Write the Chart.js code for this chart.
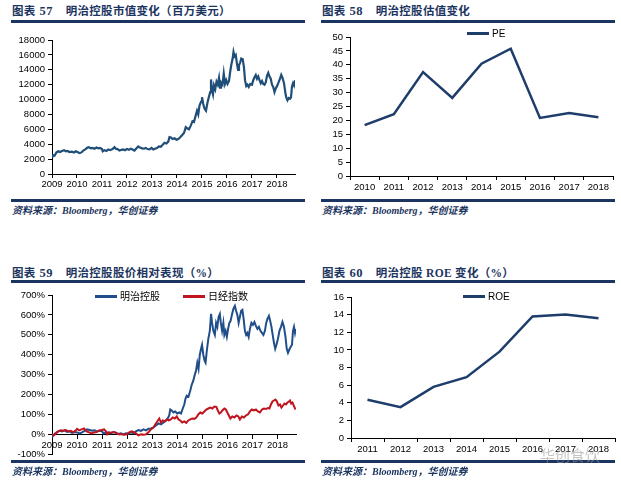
<!DOCTYPE html>
<html>
<head>
<meta charset="utf-8">
<script src="https://cdn.jsdelivr.net/npm/chart.js@4.4.1/dist/chart.umd.min.js"></script>
<style>
  body { margin: 0; background: #fff; width: 621px; height: 484px; position: relative; overflow: hidden; }
  .box { position: absolute; }
  .title { position: absolute; font: bold 11.5px "Liberation Serif", "Noto Sans CJK SC", serif; color: #1c3560; white-space: nowrap; line-height: 15px; letter-spacing: 0.3px; }
  .title .num { margin: 0 13px 0 4px; font-size: 12.5px; }
  .rule { position: absolute; height: 3px; background: #1c3560; }
  .src { position: absolute; font: italic bold 10px "Liberation Serif", "Noto Sans CJK SC", serif; color: #1c3560; white-space: nowrap; line-height: 12px; }
  .leg { position: absolute; font: 10px "Liberation Sans", "Noto Sans CJK SC", sans-serif; color: #000; white-space: nowrap; line-height: 12px; }
  .leg i { display: inline-block; width: 22px; height: 2.5px; vertical-align: middle; margin-right: 3px; position: relative; top: -1px; }
  .wm { position: absolute; font: 15px "Noto Sans CJK SC", sans-serif; color: rgba(150,150,150,0.55); white-space: nowrap; }
</style>
</head>
<body>

<div class="box" style="left:0;top:30px;width:305px;height:164px"><canvas id="mktCapChart"></canvas></div>
<div class="box" style="left:310px;top:27px;width:311px;height:169px"><canvas id="peChart"></canvas></div>
<div class="box" style="left:0;top:285px;width:305px;height:178px"><canvas id="relChart"></canvas></div>
<div class="box" style="left:310px;top:287px;width:311px;height:171px"><canvas id="roeChart"></canvas></div>

<div class="title" style="left:12px;top:4px">图表<span class="num">57</span>明治控股市值变化（百万美元）</div>
<div class="rule" style="left:11px;top:20px;width:294px"></div>
<div class="rule" style="left:11px;top:199px;width:294px"></div>
<div class="src" style="left:12px;top:205px">资料来源：Bloomberg，华创证券</div>

<div class="title" style="left:322px;top:4px">图表<span class="num">58</span>明治控股估值变化</div>
<div class="rule" style="left:321px;top:20px;width:294px"></div>
<div class="rule" style="left:321px;top:199px;width:294px"></div>
<div class="src" style="left:322px;top:205px">资料来源：Bloomberg，华创证券</div>
<div class="leg" style="left:467px;top:28px"><i style="background:#1f3d6b"></i>PE</div>

<div class="title" style="left:12px;top:266px">图表<span class="num">59</span>明治控股股价相对表现（%）</div>
<div class="rule" style="left:11px;top:280px;width:294px"></div>
<div class="rule" style="left:11px;top:460px;width:294px"></div>
<div class="src" style="left:12px;top:466px">资料来源：Bloomberg，华创证券</div>
<div class="leg" style="left:95px;top:291px"><i style="background:#1f4e8a"></i>明治控股</div>
<div class="leg" style="left:183px;top:291px"><i style="background:#c0141f"></i>日经指数</div>

<div class="title" style="left:322px;top:266px">图表<span class="num">60</span>明治控股 ROE 变化（%）</div>
<div class="rule" style="left:321px;top:280px;width:294px"></div>
<div class="rule" style="left:321px;top:460px;width:294px"></div>
<div class="src" style="left:322px;top:466px">资料来源：Bloomberg，华创证券</div>
<div class="leg" style="left:463px;top:291px"><i style="background:#1f3d6b"></i>ROE</div>
<div class="wm" style="left:540px;top:444px">华创食饮</div>

<script>
// ---- Data ----
const yearTicks = [2009, 2010, 2011, 2012, 2013, 2014, 2015, 2016, 2017, 2018];

// market cap, million USD: [decimal year, value]
const mktCap = [
  [2009.00, 2200], [2009.05, 2500], [2009.10, 2450], [2009.18, 2900], [2009.25, 3050], [2009.32, 2950],
  [2009.40, 3100], [2009.48, 3200], [2009.55, 3050], [2009.62, 3100], [2009.70, 2950], [2009.80, 3000],
  [2009.88, 2900], [2009.95, 3050], [2010.02, 2950], [2010.10, 2800], [2010.18, 2900], [2010.25, 3150],
  [2010.33, 3300], [2010.42, 3550], [2010.48, 3600], [2010.55, 3450], [2010.62, 3500], [2010.70, 3400],
  [2010.78, 3550], [2010.85, 3450], [2010.92, 3500], [2011.00, 3350], [2011.03, 3050], [2011.10, 3200],
  [2011.18, 3100], [2011.25, 3300], [2011.33, 3200], [2011.42, 3350], [2011.50, 3600], [2011.55, 3400],
  [2011.62, 3350], [2011.70, 3150], [2011.78, 3250], [2011.85, 3300], [2011.92, 3200], [2012.00, 3350],
  [2012.08, 3250], [2012.15, 3400], [2012.22, 3300], [2012.30, 3150], [2012.38, 3450], [2012.45, 3700],
  [2012.52, 3550], [2012.60, 3450], [2012.68, 3400], [2012.75, 3500], [2012.82, 3350], [2012.90, 3300],
  [2012.98, 3500], [2013.05, 3300], [2013.12, 3400], [2013.20, 3500], [2013.28, 3700], [2013.35, 3650],
  [2013.42, 3900], [2013.50, 4200], [2013.58, 4100], [2013.65, 4350], [2013.70, 4950], [2013.76, 4900],
  [2013.82, 4700], [2013.90, 4800], [2013.98, 4600], [2014.05, 4700], [2014.12, 4900], [2014.20, 5200],
  [2014.28, 5500], [2014.35, 6300], [2014.42, 6100], [2014.48, 6000], [2014.55, 6500], [2014.62, 7100],
  [2014.68, 7000], [2014.75, 7900], [2014.80, 8500], [2014.85, 8000], [2014.90, 9200], [2014.96, 9700],
  [2015.00, 10300], [2015.05, 9400], [2015.10, 8800], [2015.16, 8500], [2015.22, 9600], [2015.28, 10400],
  [2015.33, 11000], [2015.36, 12700], [2015.40, 11300], [2015.44, 10700], [2015.48, 11900], [2015.53, 11400],
  [2015.58, 12400], [2015.63, 12000], [2015.68, 12900], [2015.72, 11600], [2015.76, 12300], [2015.82, 12000],
  [2015.87, 13500], [2015.92, 12100], [2015.97, 12600], [2016.02, 12100], [2016.08, 12500], [2016.13, 13800],
  [2016.18, 14800], [2016.22, 15400], [2016.26, 16400], [2016.30, 15800], [2016.35, 16000], [2016.40, 14800],
  [2016.44, 14000], [2016.48, 14600], [2016.53, 15000], [2016.57, 15500], [2016.63, 15400], [2016.68, 14300],
  [2016.72, 12600], [2016.77, 11800], [2016.82, 12000], [2016.87, 11700], [2016.93, 12100], [2017.00, 12000],
  [2017.05, 12600], [2017.10, 13000], [2017.15, 13300], [2017.20, 12800], [2017.25, 13100], [2017.30, 12600],
  [2017.35, 12200], [2017.40, 12500], [2017.45, 12100], [2017.50, 12000], [2017.55, 12300], [2017.60, 13200],
  [2017.65, 13600], [2017.70, 13100], [2017.75, 12800], [2017.80, 12000], [2017.85, 11700], [2017.90, 11000],
  [2017.95, 11500], [2018.00, 11800], [2018.05, 12200], [2018.12, 12800], [2018.17, 13300], [2018.22, 12900],
  [2018.28, 12200], [2018.33, 11000], [2018.37, 10300], [2018.42, 9900], [2018.47, 10200], [2018.52, 10100],
  [2018.56, 10300], [2018.60, 11800], [2018.64, 12200], [2018.68, 11900], [2018.72, 12600]
];

const peYears = ['2010', '2011', '2012', '2013', '2014', '2015', '2016', '2017', '2018'];
const peValues = [18.3, 22.2, 37.4, 28.1, 40.4, 45.8, 20.9, 22.7, 21.1];

// relative performance, %: [decimal year, value]
const meijiRel = [
  [2009.00, -15], [2009.05, -5], [2009.12, 5], [2009.20, 12], [2009.30, 18], [2009.40, 15], [2009.50, 20],
  [2009.60, 12], [2009.70, 15], [2009.80, 8], [2009.90, 12], [2010.00, 10], [2010.10, 5], [2010.20, 10],
  [2010.30, 18], [2010.40, 25], [2010.50, 22], [2010.60, 18], [2010.70, 20], [2010.80, 15], [2010.90, 18],
  [2011.00, 15], [2011.05, 5], [2011.15, 8], [2011.25, 10], [2011.35, 5], [2011.45, 12], [2011.55, 8],
  [2011.65, 2], [2011.75, 5], [2011.85, 0], [2011.95, 5], [2012.05, 3], [2012.15, 10], [2012.25, 5],
  [2012.35, 15], [2012.45, 22], [2012.55, 18], [2012.65, 25], [2012.75, 20], [2012.85, 28], [2012.95, 30],
  [2013.05, 35], [2013.15, 45], [2013.25, 55], [2013.35, 50], [2013.45, 60], [2013.55, 70], [2013.62, 80],
  [2013.68, 95], [2013.72, 125], [2013.78, 120], [2013.85, 110], [2013.92, 115], [2014.00, 105], [2014.08, 110],
  [2014.15, 105], [2014.22, 130], [2014.28, 150], [2014.33, 180], [2014.38, 195], [2014.45, 190], [2014.52, 220],
  [2014.58, 250], [2014.64, 270], [2014.70, 300], [2014.75, 320], [2014.80, 360], [2014.85, 330], [2014.90, 400],
  [2014.95, 430], [2014.99, 450], [2015.04, 400], [2015.09, 370], [2015.13, 360], [2015.18, 420], [2015.24, 480],
  [2015.30, 520], [2015.35, 605], [2015.39, 560], [2015.44, 520], [2015.50, 500], [2015.55, 560], [2015.60, 540],
  [2015.65, 590], [2015.70, 605], [2015.74, 560], [2015.79, 520], [2015.84, 560], [2015.88, 500], [2015.93, 520],
  [2015.98, 490], [2016.03, 530], [2016.08, 560], [2016.13, 570], [2016.18, 600], [2016.24, 630], [2016.30, 645],
  [2016.35, 620], [2016.40, 600], [2016.45, 560], [2016.50, 590], [2016.55, 620], [2016.60, 625], [2016.65, 580],
  [2016.70, 520], [2016.75, 500], [2016.80, 510], [2016.85, 490], [2016.90, 530], [2016.96, 560], [2017.02, 550],
  [2017.08, 565], [2017.14, 545], [2017.20, 530], [2017.26, 540], [2017.32, 520], [2017.38, 510], [2017.44, 500],
  [2017.50, 520], [2017.55, 560], [2017.60, 580], [2017.66, 595], [2017.71, 570], [2017.76, 540], [2017.81, 500],
  [2017.86, 460], [2017.91, 430], [2017.96, 450], [2018.02, 480], [2018.08, 520], [2018.14, 540], [2018.20, 565],
  [2018.26, 540], [2018.32, 490], [2018.37, 430], [2018.42, 410], [2018.47, 425], [2018.53, 440], [2018.58, 450],
  [2018.62, 520], [2018.66, 540], [2018.70, 510], [2018.73, 530]
];

const nikkeiRel = [
  [2009.00, 0], [2009.08, -5], [2009.15, 5], [2009.25, 15], [2009.35, 20], [2009.45, 18], [2009.55, 22],
  [2009.65, 15], [2009.75, 18], [2009.85, 10], [2009.95, 20], [2010.00, 28], [2010.08, 20], [2010.18, 25],
  [2010.28, 30], [2010.38, 15], [2010.48, 10], [2010.58, 5], [2010.68, 10], [2010.78, 12], [2010.88, 20],
  [2010.98, 22], [2011.08, 25], [2011.15, 15], [2011.20, 0], [2011.28, 8], [2011.38, 10], [2011.48, 12],
  [2011.58, 5], [2011.68, 0], [2011.78, 2], [2011.88, -2], [2011.98, 0], [2012.08, 10], [2012.18, 15],
  [2012.25, 12], [2012.35, 5], [2012.45, -5], [2012.55, 0], [2012.65, -2], [2012.75, 0], [2012.85, 10],
  [2012.95, 25], [2013.05, 35], [2013.12, 50], [2013.20, 65], [2013.28, 80], [2013.35, 60], [2013.42, 70],
  [2013.50, 65], [2013.58, 75], [2013.66, 70], [2013.74, 75], [2013.82, 85], [2013.90, 80], [2013.98, 90],
  [2014.05, 75], [2014.12, 70], [2014.20, 60], [2014.28, 65], [2014.36, 58], [2014.44, 70], [2014.52, 75],
  [2014.60, 80], [2014.68, 78], [2014.76, 85], [2014.84, 100], [2014.92, 110], [2015.00, 105], [2015.08, 115],
  [2015.16, 125], [2015.24, 130], [2015.32, 135], [2015.40, 130], [2015.48, 140], [2015.56, 138], [2015.62, 120],
  [2015.68, 105], [2015.74, 110], [2015.80, 120], [2015.88, 130], [2015.94, 125], [2016.00, 110], [2016.06, 95],
  [2016.12, 80], [2016.20, 90], [2016.28, 85], [2016.36, 95], [2016.44, 90], [2016.50, 75], [2016.58, 90],
  [2016.66, 85], [2016.74, 95], [2016.82, 100], [2016.90, 115], [2016.98, 125], [2017.06, 120], [2017.14, 125],
  [2017.22, 115], [2017.30, 110], [2017.38, 125], [2017.46, 130], [2017.54, 128], [2017.62, 132], [2017.68, 130],
  [2017.74, 150], [2017.80, 165], [2017.86, 170], [2017.92, 175], [2017.98, 165], [2018.04, 145], [2018.10, 150],
  [2018.16, 135], [2018.22, 145], [2018.28, 155], [2018.34, 150], [2018.40, 160], [2018.46, 165], [2018.50, 170],
  [2018.55, 155], [2018.60, 160], [2018.65, 145], [2018.70, 130], [2018.73, 125]
];

const roeYears = ['2011', '2012', '2013', '2014', '2015', '2016', '2017', '2018'];
const roeValues = [4.35, 3.5, 5.8, 6.9, 9.8, 13.8, 14.0, 13.6];

// ---- shared styling ----
const tickFont = { family: '"Liberation Sans", Arial, sans-serif', size: 9.5 };
const toXY = arr => arr.map(p => ({ x: p[0], y: p[1] }));

function yAxis(min, max, step, width, fmt) {
  return {
    min, max,
    ticks: { stepSize: step, autoSkip: false, font: tickFont, color: '#000', padding: 3, callback: fmt || (v => v) },
    grid: { display: true, drawOnChartArea: false, drawTicks: true, tickLength: 4, color: '#000' },
    border: { display: true, color: '#000', width: 1 },
    afterFit: s => { s.width = width; }
  };
}

function yearAxis(max, extra) {
  return Object.assign({
    type: 'linear',
    min: 2009, max,
    afterBuildTicks: s => { s.ticks = yearTicks.map(v => ({ value: v })); },
    ticks: { font: tickFont, color: '#000', padding: 1, maxRotation: 0, autoSkip: false, callback: v => String(v) },
    grid: { display: true, drawOnChartArea: false, drawTicks: true, tickLength: 4, color: '#000' },
    border: { display: true, color: '#000', width: 1 },
    afterFit: s => { s.height = 20; }
  }, extra || {});
}

function catAxis() {
  return {
    type: 'category',
    offset: true,
    ticks: { font: tickFont, color: '#000', padding: 2, maxRotation: 0, autoSkip: false },
    grid: { display: true, offset: true, drawOnChartArea: false, drawTicks: true, tickLength: 4, color: '#000' },
    border: { display: true, color: '#000', width: 1 },
    afterFit: s => { s.height = 20; }
  };
}

const basePlugins = { legend: { display: false }, tooltip: { enabled: false } };

// ---- 57: market cap ----
new Chart(document.getElementById('mktCapChart'), {
  type: 'line',
  data: {
    datasets: [{
      data: toXY(mktCap),
      borderColor: '#1f4e79',
      borderWidth: 2.2,
      pointRadius: 0,
      tension: 0
    }]
  },
  options: {
    responsive: true, maintainAspectRatio: false, animation: false,
    layout: { padding: { top: 10, right: 10, bottom: 0, left: 0 } },
    plugins: basePlugins,
    scales: {
      x: yearAxis(2018.72),
      y: yAxis(0, 18000, 2000, 52)
    }
  }
});

// ---- 58: PE ----
new Chart(document.getElementById('peChart'), {
  type: 'line',
  data: {
    labels: peYears,
    datasets: [{
      data: peValues,
      borderColor: '#1f3d6b',
      borderWidth: 2.5,
      pointRadius: 0,
      tension: 0
    }]
  },
  options: {
    responsive: true, maintainAspectRatio: false, animation: false,
    layout: { padding: { top: 10, right: 8, bottom: 0, left: 0 } },
    plugins: basePlugins,
    scales: {
      x: catAxis(),
      y: yAxis(0, 50, 5, 40)
    }
  }
});

// ---- 59: relative performance ----
new Chart(document.getElementById('relChart'), {
  type: 'line',
  data: {
    datasets: [
      { data: toXY(nikkeiRel), borderColor: '#c0141f', borderWidth: 2, pointRadius: 0, tension: 0 },
      { data: toXY(meijiRel), borderColor: '#1f4e8a', borderWidth: 2, pointRadius: 0, tension: 0 }
    ]
  },
  options: {
    responsive: true, maintainAspectRatio: false, animation: false,
    layout: { padding: { top: 10, right: 9, bottom: 8, left: 0 } },
    plugins: basePlugins,
    scales: {
      x: yearAxis(2018.74, { position: { y: 0 } }),
      y: yAxis(-100, 700, 100, 52, v => v + '%')
    }
  }
});

// ---- 60: ROE ----
new Chart(document.getElementById('roeChart'), {
  type: 'line',
  data: {
    labels: roeYears,
    datasets: [{
      data: roeValues,
      borderColor: '#1f3d6b',
      borderWidth: 2.5,
      pointRadius: 0,
      tension: 0
    }]
  },
  options: {
    responsive: true, maintainAspectRatio: false, animation: false,
    layout: { padding: { top: 10, right: 6, bottom: 0, left: 0 } },
    plugins: basePlugins,
    scales: {
      x: catAxis(),
      y: yAxis(0, 16, 2, 41)
    }
  }
});
</script>
</body>
</html>
